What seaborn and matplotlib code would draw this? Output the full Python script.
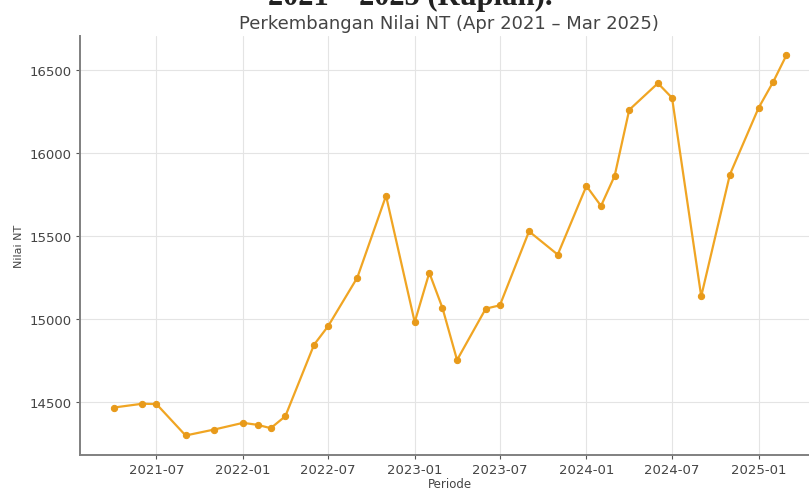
import matplotlib
matplotlib.use("Agg")
import matplotlib.pyplot as plt
import matplotlib.dates as mdates
import seaborn as sns
import pandas as pd

periods = ["2021-04", "2021-06", "2021-07", "2021-09", "2021-11",
           "2022-01", "2022-02", "2022-03", "2022-04", "2022-06", "2022-07", "2022-09", "2022-11",
           "2023-01", "2023-02", "2023-03", "2023-04", "2023-06", "2023-07", "2023-09", "2023-11",
           "2024-01", "2024-02", "2024-03", "2024-04", "2024-06", "2024-07", "2024-09", "2024-11",
           "2025-01", "2025-02", "2025-03"]
nt_values = [14468, 14491, 14489, 14300, 14336,
             14376, 14364, 14344, 14416, 14846, 14958, 15250, 15742,
             14982, 15279, 15067, 14754, 15063, 15083, 15528, 15388,
             15801, 15681, 15862, 16259, 16419, 16331, 15137, 15870,
             16271, 16427, 16587]
yticks = [14500, 15000, 15500, 16000, 16500]

df = pd.DataFrame({"Periode": pd.to_datetime(periods, format="%Y-%m"), "Nilai NT": nt_values})

sns.set_theme(style="whitegrid")
plt.rcParams["font.family"] = ["DejaVu Sans"]

fig = plt.figure(figsize=(8.09, 4.89), dpi=100)
ax = fig.add_axes([80 / 809, 1 - 455.5 / 489, (820 - 80) / 809, (455.5 - 37.3) / 489])

line_color = "#F0A523"
sns.lineplot(data=df, x="Periode", y="Nilai NT", ax=ax, color=line_color,
             marker="o", markersize=4.5, linewidth=1.6,
             markerfacecolor="#E89A1A", markeredgecolor="#E89A1A")

ax.set_yticks(yticks)
ax.xaxis.set_major_locator(mdates.MonthLocator(bymonth=[1, 7]))
ax.xaxis.set_major_formatter(mdates.DateFormatter("%Y-%m"))

ax.grid(True, color="#e4e4e4", linewidth=0.8)
for s in ["top", "right"]:
    ax.spines[s].set_visible(False)
for s in ["left", "bottom"]:
    ax.spines[s].set_visible(True)
    ax.spines[s].set_color("#808080")
    ax.spines[s].set_linewidth(1.4)

ax.tick_params(axis="both", which="major", labelsize=9.5, colors="#555555",
               length=3, width=0.8, left=True, bottom=True, pad=3)
for lbl in ax.get_xticklabels() + ax.get_yticklabels():
    lbl.set_color("#444444")

ax.set_xlabel("Periode", fontsize=8.5, color="#444444", labelpad=1)
ax.set_ylabel("Nilai NT", fontsize=8, color="#444444", labelpad=4)
ax.set_title("Perkembangan Nilai NT (Apr 2021 \u2013 Mar 2025)", fontsize=13,
             color="#444444", pad=6, x=(449 - 80) / 740)

fig.text(410 / 809, 1.005, "2021 \u2013 2025 (Rupiah).", ha="center", va="center",
         fontsize=22, fontweight="bold", family=["Liberation Serif", "DejaVu Serif"],
         color="#222222")

fig.savefig("out.png", dpi=100)
